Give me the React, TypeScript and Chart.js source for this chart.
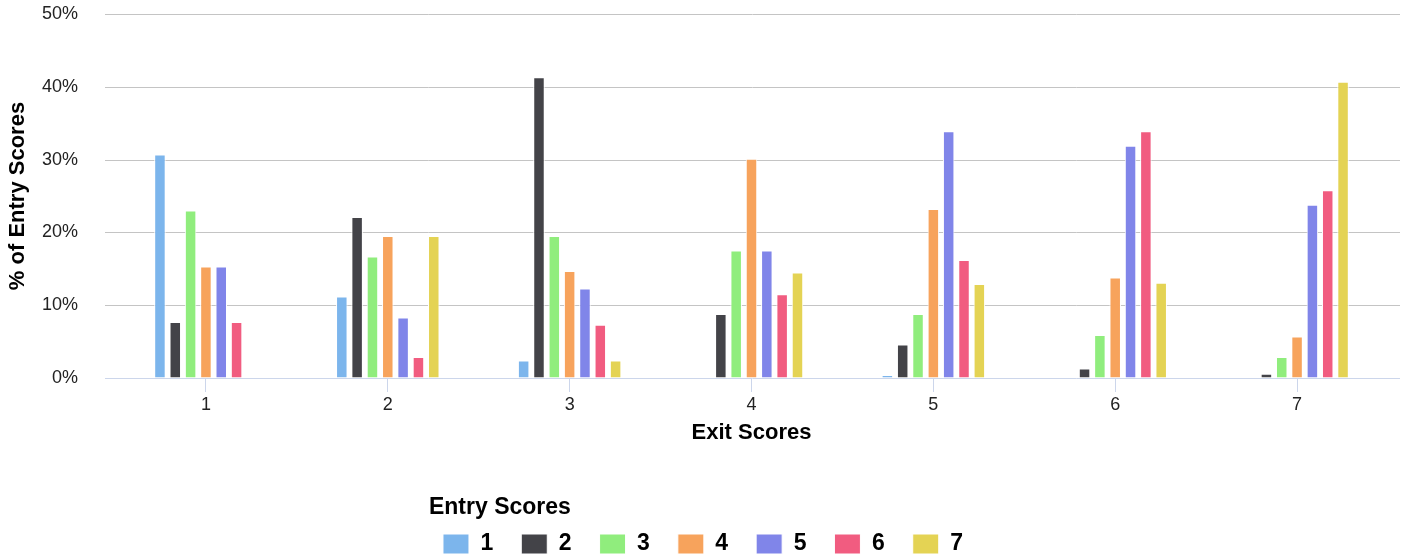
import React, { useEffect, useRef } from "react";
import { Chart, registerables } from "chart.js";

Chart.register(...registerables);

const exitScores = ["1", "2", "3", "4", "5", "6", "7"];
const entryScores = ["1", "2", "3", "4", "5", "6", "7"];
const entry1 = [30.7, 11.2, 2.4, 0, 0.4, 0, 0];
const entry2 = [7.7, 22.1, 41.3, 8.8, 4.6, 1.3, 0.6];
const entry3 = [23.0, 16.7, 19.5, 17.5, 8.8, 5.9, 2.9];
const entry4 = [15.3, 19.5, 14.7, 30.1, 23.2, 13.8, 5.7];
const entry5 = [15.3, 8.3, 12.3, 17.5, 33.9, 31.9, 23.8];
const entry6 = [7.7, 2.9, 7.3, 11.5, 16.2, 33.9, 25.8];
const entry7 = [0, 19.5, 2.4, 14.5, 12.9, 13.1, 40.7];
const seriesValues = [entry1, entry2, entry3, entry4, entry5, entry6, entry7];
const colors = ["#7cb5ec", "#434348", "#90ed7d", "#f7a35c", "#8085e9", "#f15c80", "#e4d354"];
const yTicks = [0, 10, 20, 30, 40, 50];

const FONT = "'Liberation Sans', Arial, sans-serif";

const gridPlugin = {
  id: "extendedGrid",
  beforeDatasetsDraw(chart: any) {
    const { ctx, chartArea, scales } = chart;
    const y = scales.y;
    const x0 = chartArea.left - 10;
    const x1 = chartArea.right + 12;
    ctx.save();
    ctx.lineWidth = 1;
    yTicks.forEach((v) => {
      const py = Math.round(y.getPixelForValue(v)) + 0.5;
      ctx.strokeStyle = v === 0 ? "#ccd6eb" : "#c4c4c4";
      ctx.beginPath();
      ctx.moveTo(x0, py);
      ctx.lineTo(x1, py);
      ctx.stroke();
    });
    ctx.restore();
  },
};

export default function App() {
  const ref = useRef<HTMLCanvasElement | null>(null);
  useEffect(() => {
    if (!ref.current) return;
    const chart = new Chart(ref.current, {
      type: "bar",
      data: {
        labels: exitScores,
        datasets: entryScores.map((name, i) => ({
          label: name,
          data: seriesValues[i],
          backgroundColor: colors[i],
          borderColor: "#ffffff",
          borderWidth: 1,
          categoryPercentage: 0.59,
          barPercentage: 0.75,
        })),
      },
      options: {
        animation: false,
        responsive: true,
        maintainAspectRatio: false,
        layout: { padding: { top: 14, left: 0, right: 0, bottom: 0 } },
        plugins: {
          tooltip: { enabled: false },
          legend: {
            position: "bottom",
            maxHeight: 60.5,
            title: {
              display: true,
              text: "Entry Scores",
              position: "start",
              color: "#000",
              font: { family: FONT, size: 23, weight: "bold" },
              padding: { top: 0, bottom: -19.6 },
            },
            labels: {
              boxWidth: 26,
              boxHeight: 20,
              padding: 28,
              color: "#000",
              font: { family: FONT, size: 23, weight: "bold" },
            },
          },
        },
        scales: {
          x: {
            type: "category",
            offset: true,
            afterFit: (s: any) => {
              s.height = 118.5;
            },
            grid: {
              display: true,
              offset: false,
              drawOnChartArea: false,
              drawTicks: true,
              tickLength: 14,
              color: "#ccd6eb",
            },
            border: { display: false },
            ticks: {
              color: "#222",
              padding: 2.5,
              font: { family: FONT, size: 18 },
            },
            title: {
              display: true,
              text: "Exit Scores",
              color: "#000",
              font: { family: FONT, size: 22, weight: "bold" },
              padding: { top: 0, bottom: 50.3 },
            },
          },
          y: {
            min: 0,
            max: 50,
            afterFit: (s: any) => {
              s.width = 115;
            },
            afterBuildTicks: (s: any) => {
              s.ticks = yTicks.map((v) => ({ value: v }));
            },
            grid: {
              display: true,
              drawOnChartArea: false,
              drawTicks: true,
              tickLength: 37,
              color: "rgba(0,0,0,0)",
            },
            border: { display: false },
            ticks: {
              color: "#222",
              padding: 0,
              font: { family: FONT, size: 18 },
              callback: (v: any) => v + "%",
            },
            title: {
              display: true,
              text: "% of Entry Scores",
              color: "#000",
              font: { family: FONT, size: 22, weight: "bold" },
              padding: { top: 4.3, bottom: 0 },
            },
          },
          yRight: {
            position: "right",
            display: true,
            afterFit: (s: any) => {
              s.width = 18;
            },
            grid: { display: false, drawTicks: false },
            border: { display: false },
            ticks: { display: false },
          },
        },
      },
      plugins: [gridPlugin],
    } as any);
    return () => chart.destroy();
  }, []);
  return (
    <div style={{ position: "fixed", left: 0, top: 0, width: 1406, height: 557 }}>
      <canvas ref={ref} />
    </div>
  );
}
